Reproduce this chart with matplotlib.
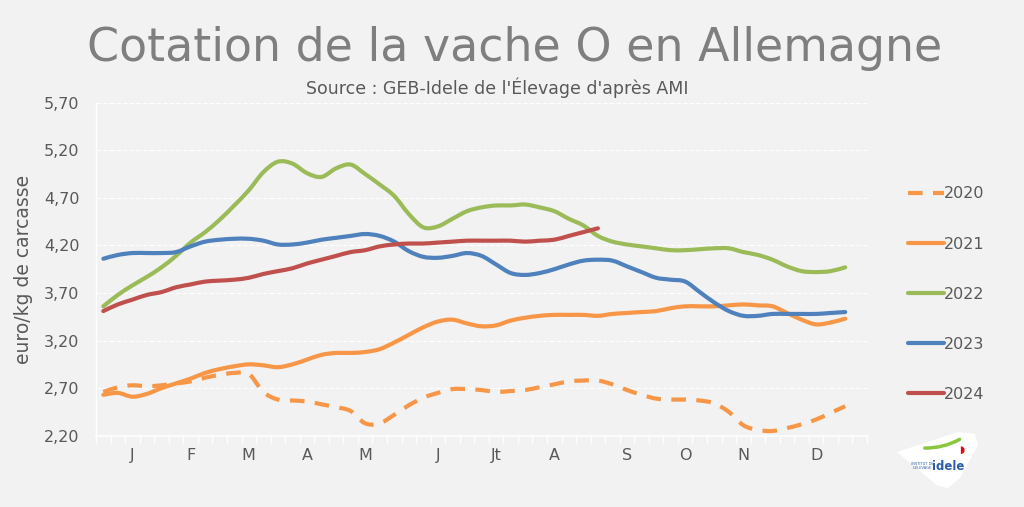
import numpy as np
import matplotlib
matplotlib.use("Agg")
import matplotlib.pyplot as plt
from matplotlib.patches import Polygon, PathPatch, FancyArrowPatch
from matplotlib.path import Path
from matplotlib.lines import Line2D

# semaines 1..52 (53 categories sur l'axe)
mois = ['J', 'F', 'M', 'A', 'M', 'J', 'Jt', 'A', 'S', 'O', 'N', 'D']
pos_mois = [2, 6, 10, 14, 18, 23, 27, 31, 36, 40, 44, 49]

v2020 = [2.66, 2.71, 2.73, 2.72, 2.73, 2.75, 2.77, 2.81, 2.84, 2.86, 2.85, 2.66, 2.58,
         2.57, 2.56, 2.53, 2.50, 2.46, 2.33, 2.33, 2.42, 2.52, 2.60, 2.65, 2.69, 2.69,
         2.68, 2.66, 2.67, 2.68, 2.71, 2.74, 2.77, 2.78, 2.78, 2.74, 2.68, 2.63, 2.59,
         2.58, 2.58, 2.57, 2.54, 2.45, 2.31, 2.26, 2.25, 2.28, 2.32, 2.37, 2.44, 2.51]
v2021 = [2.63, 2.65, 2.61, 2.64, 2.70, 2.75, 2.80, 2.86, 2.90, 2.93, 2.95, 2.94, 2.92,
         2.95, 3.00, 3.05, 3.07, 3.07, 3.08, 3.11, 3.18, 3.26, 3.34, 3.40, 3.42, 3.38,
         3.35, 3.36, 3.41, 3.44, 3.46, 3.47, 3.47, 3.47, 3.46, 3.48, 3.49, 3.50, 3.51,
         3.54, 3.56, 3.56, 3.56, 3.57, 3.58, 3.57, 3.56, 3.49, 3.42, 3.37, 3.39, 3.43]
v2022 = [3.56, 3.68, 3.78, 3.87, 3.97, 4.09, 4.23, 4.34, 4.47, 4.62, 4.78, 4.97, 5.08,
         5.06, 4.96, 4.92, 5.01, 5.05, 4.95, 4.84, 4.72, 4.53, 4.39, 4.40, 4.48, 4.56,
         4.60, 4.62, 4.62, 4.63, 4.60, 4.56, 4.48, 4.41, 4.30, 4.24, 4.21, 4.19, 4.17,
         4.15, 4.15, 4.16, 4.17, 4.17, 4.13, 4.10, 4.05, 3.98, 3.93, 3.92, 3.93, 3.97]
v2023 = [4.06, 4.10, 4.12, 4.12, 4.12, 4.13, 4.19, 4.24, 4.26, 4.27, 4.27, 4.25, 4.21,
         4.21, 4.23, 4.26, 4.28, 4.30, 4.32, 4.30, 4.24, 4.14, 4.08, 4.07, 4.09, 4.12,
         4.09, 4.00, 3.91, 3.89, 3.91, 3.95, 4.00, 4.04, 4.05, 4.04, 3.98, 3.92, 3.86,
         3.84, 3.82, 3.71, 3.60, 3.51, 3.46, 3.46, 3.48, 3.48, 3.48, 3.48, 3.49, 3.50]
v2024 = [3.51, 3.58, 3.63, 3.68, 3.71, 3.76, 3.79, 3.82, 3.83, 3.84, 3.86, 3.90, 3.93,
         3.96, 4.01, 4.05, 4.09, 4.13, 4.15, 4.19, 4.21, 4.22, 4.22, 4.23, 4.24, 4.25,
         4.25, 4.25, 4.25, 4.24, 4.25, 4.26, 4.30, 4.34, 4.38]

fond = '#f2f2f2'
gris = '#595959'


def courbe_lissee(xs, ys):
    # courbe lissee facon Excel : segments de Bezier entre les points
    p = np.column_stack([xs, ys]).astype(float)
    verts = [p[0]]
    codes = [Path.MOVETO]
    n = len(p)
    for i in range(n - 1):
        p0 = p[max(i - 1, 0)]
        p3 = p[min(i + 2, n - 1)]
        c1 = p[i] + (p[i + 1] - p0) / 6
        c2 = p[i + 1] - (p3 - p[i]) / 6
        verts += [c1, c2, p[i + 1]]
        codes += [Path.CURVE4] * 3
    return Path(verts, codes)


fig = plt.figure(figsize=(10.24, 5.07), dpi=100, facecolor=fond)
ax = fig.add_axes([0.0938, 0.1406, 0.7529, 0.6568], facecolor=fond)

series = [
    ('2020', v2020, '#f79646', (0, (3.5, 2.5))),
    ('2021', v2021, '#f79646', '-'),
    ('2022', v2022, '#9bbb59', '-'),
    ('2023', v2023, '#4f81bd', '-'),
    ('2024', v2024, '#c0504d', '-'),
]
poignees = []
for nom, vals, coul, style in series:
    chemin = courbe_lissee(np.arange(len(vals)), vals)
    ax.add_patch(PathPatch(chemin, fill=False, edgecolor=coul, lw=3, ls=style,
                           capstyle='round' if style == '-' else 'butt', joinstyle='round'))
    poignees.append(Line2D([], [], color=coul, lw=3, ls=style, label=nom,
                           solid_capstyle='round'))

ax.set_xlim(-0.5, 52.5)
ax.set_ylim(2.2, 5.7)
yt = [2.2, 2.7, 3.2, 3.7, 4.2, 4.7, 5.2, 5.7]
ax.set_yticks(yt)
ax.yaxis.set_major_formatter(matplotlib.ticker.FuncFormatter(lambda v, p: ('%.2f' % v).replace('.', ',')))
ax.grid(axis='y', color='white', lw=0.8, ls=(0, (4, 2)))
ax.set_axisbelow(True)

ax.set_xticks(pos_mois)
ax.set_xticklabels(mois)
ax.set_xticks(np.arange(-0.5, 53, 1), minor=True)
ax.tick_params(axis='x', which='major', length=0, pad=9, labelsize=11.5, labelcolor=gris)
ax.tick_params(axis='x', which='minor', length=5, width=1, color='white', direction='out')
ax.tick_params(axis='y', length=0, pad=12, labelsize=11.5, labelcolor=gris)

for s in ['top', 'right']:
    ax.spines[s].set_visible(False)
ax.spines['left'].set_color('white')
ax.spines['bottom'].set_color('white')
ax.spines['left'].set_linewidth(1)
ax.spines['bottom'].set_linewidth(1.2)

ax.set_ylabel('euro/kg de carcasse', fontsize=13.5, color=gris, labelpad=8)

leg = ax.legend(handles=poignees, loc='center left', bbox_to_anchor=(1.035, 0.425),
                frameon=False, fontsize=11.5, labelspacing=2.2, handlelength=2.2,
                handletextpad=0.05)
for t in leg.get_texts():
    t.set_color(gris)

fig.text(0.503, 0.905, 'Cotation de la vache O en Allemagne', ha='center', va='center',
         fontsize=33, color='#7f7f7f')
fig.text(0.486, 0.826, "Source : GEB-Idele de l'Élevage d'après AMI", ha='center',
         va='center', fontsize=12.5, color=gris)

# logo idele (approximation)
pts = [(897, 452), (958, 432), (975, 434), (978, 445), (960, 478), (948, 488), (938, 486)]
fig.patches.append(Polygon([(x / 1024, 1 - y / 507) for x, y in pts], closed=True,
                           transform=fig.transFigure, facecolor='white', edgecolor='none',
                           zorder=1))
fig.add_artist(FancyArrowPatch((922 / 1024, 1 - 448 / 507), (962 / 1024, 1 - 438 / 507),
                               transform=fig.transFigure, arrowstyle='-', color='#8cc63f',
                               lw=2.5, connectionstyle='arc3,rad=0.15', zorder=2))
fig.text(962 / 1024, 1 - 450 / 507, '◗', fontsize=7, color='#e30613', ha='center',
         va='center', zorder=3)
fig.text(948 / 1024, 1 - 466 / 507, 'idele', fontsize=8.5, fontweight='bold',
         color='#2a5caa', ha='center', va='center', zorder=3)
fig.text(922 / 1024, 1 - 466 / 507, "INSTITUT DE\nL'ÉLEVAGE", fontsize=2.6,
         color='#2a5caa', ha='center', va='center', linespacing=1.0, zorder=3)

fig.savefig('out.png', dpi=100, facecolor=fond)
